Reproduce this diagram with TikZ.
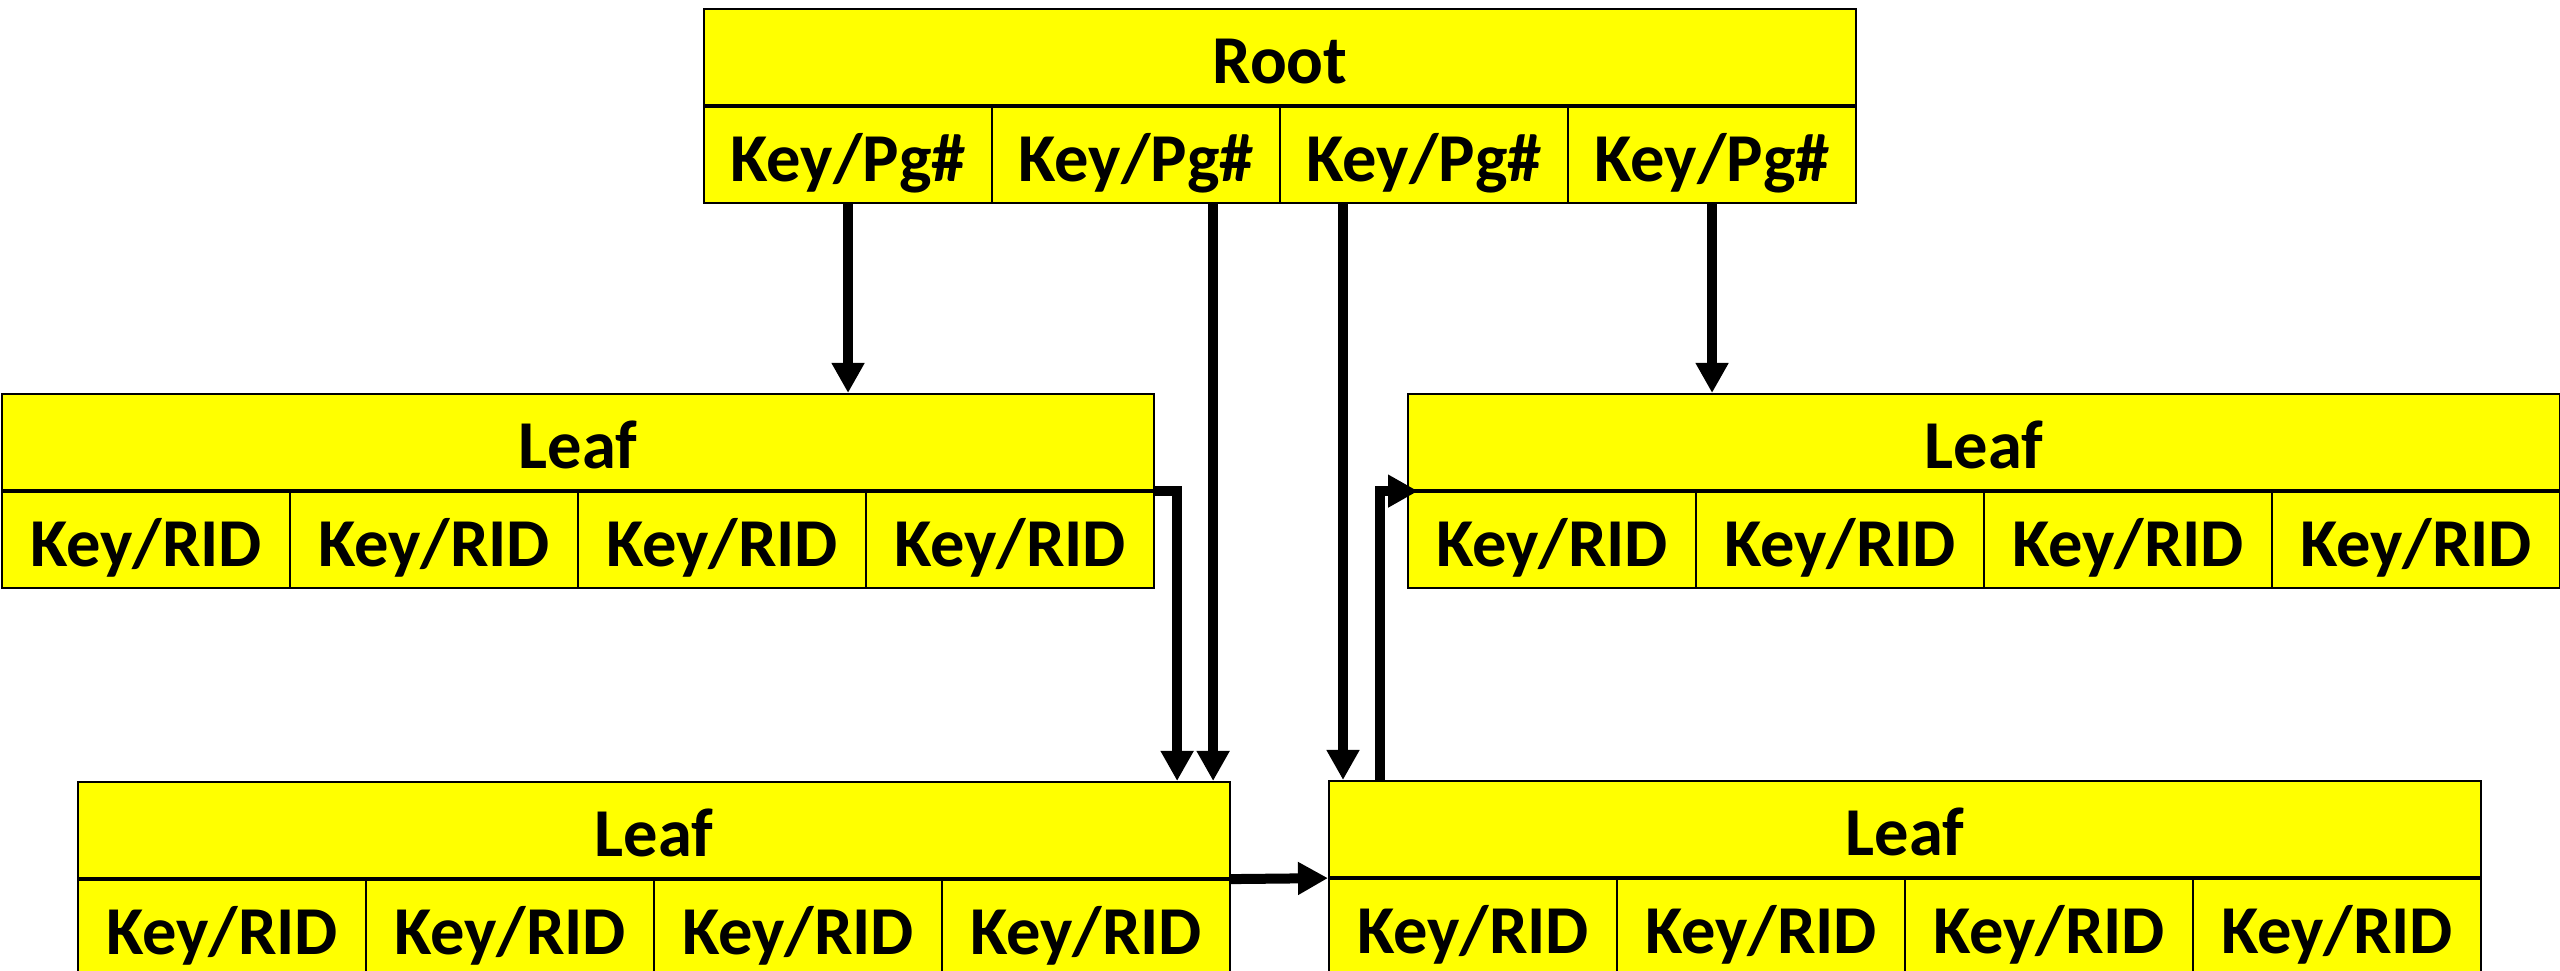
\documentclass[tikz,border=0pt]{standalone}
\usepackage{fontspec}
\setmainfont{Carlito}
\usetikzlibrary{positioning, arrows.meta}
\definecolor{pageyellow}{RGB}{255,255,0}

\begin{document}
\begin{tikzpicture}[
        header/.style={
            rectangle,
            draw,
            line width=0.6pt,
            fill=pageyellow,
            minimum width=11.52cm,
            minimum height=0.96cm,
            inner sep=0pt,
            text height=0.62cm,
            text depth=0.1cm,
            font=\fontsize{19.5}{19.5}\selectfont\bfseries
        },
        entry/.style={
            header,
            minimum width=2.88cm
        },
        arrow/.style={
            -{Triangle[length=0.3cm, width=0.31cm]},
            line width=0.1cm
        }
    ]
    \useasboundingbox (0,0) rectangle (25.6,-9.71);

    % Root page
    \node[header, anchor=north west] (root) at (7.03,-0.08) {Root};
    \foreach \i in {1,...,4}
        \node[entry, anchor=north west] (root\i) at ([xshift={(\i-1)*2.88cm}]root.south west) {Key/Pg\#};

    % Leaf pages
    \foreach \page/\x/\y in {lefttop/0.01/-3.93, righttop/14.07/-3.93, leftbot/0.77/-7.81, rightbot/13.28/-7.80} {
        \node[header, anchor=north west] (\page) at (\x,\y) {Leaf};
        \foreach \i in {1,...,4}
            \node[entry, anchor=north west] (\page\i) at ([xshift={(\i-1)*2.88cm}]\page.south west) {Key/RID};
    }

    % Where the long links land
    \coordinate (fromroot2) at ([xshift=-0.18cm]leftbot.north east);
    \coordinate (fromroot3) at ([xshift=0.15cm]rightbot.north west);
    \coordinate (fromleaf) at ([xshift=-0.54cm]leftbot.north east);
    \coordinate (toleaf) at ([xshift=0.52cm]rightbot.north west);
    \coordinate (leafentry) at ([xshift=0.11cm]righttop.south west);

    % Root pointers
    \draw[arrow] (root1.south) -- (root1.south |- lefttop.north);
    \draw[arrow] (root4.south) -- (root4.south |- righttop.north);
    \draw[arrow] (root2.south -| fromroot2) -- (fromroot2);
    \draw[arrow] (root3.south -| fromroot3) -- (fromroot3);

    % Leaf chain
    \draw[arrow] (lefttop.south east) -| (fromleaf);
    \draw[arrow] (leftbot.south east) -- (rightbot.south west);
    \draw[arrow] (toleaf) |- (leafentry);

\end{tikzpicture}
\end{document}
